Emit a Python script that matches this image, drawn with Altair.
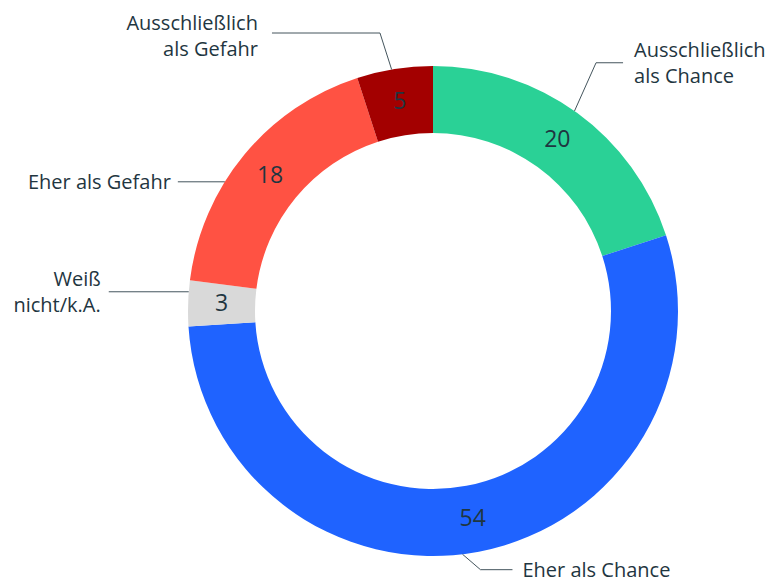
import math
import altair as alt
import pandas as pd

# ---- data ----
categories = ["Ausschließlich als Chance", "Eher als Chance", "Weiß nicht/k.A.",
              "Eher als Gefahr", "Ausschließlich als Gefahr"]
label_text = ["Ausschließlich\nals Chance", "Eher als Chance", "Weiß\nnicht/k.A.",
              "Eher als Gefahr", "Ausschließlich\nals Gefahr"]
values = [20, 54, 3, 18, 5]
colors = ["#2ad196", "#1f63ff", "#d9d9d9", "#ff5243", "#a30000"]

# ---- layout ----
W, H = 761, 574
CX, CY = 425, 303
R_OUT, R_IN = 245, 178
FONT = "Open Sans"
TXT = "#1f3641"
LH = 26
# leader: (fraction along slice, elbow angle, elbow radius, horizontal length, text gap, text dy)
leader = [
    (0.49, 33.3, 297, 27, 11, 0),
    (0.52, 169.6, 263, 32, 10, 0),
    (0.75, None, 0, 80, 8, 0),
    (0.38, None, 0, 47, 7, 0),
    (0.46, 349.2, 283, 108, 14, 3),
]

df = pd.DataFrame({"cat": categories, "value": values, "idx": list(range(len(values)))})

total = sum(values)
line_rows, lab_rows = [], []
start = 0.0
for i, (cat, v) in enumerate(zip(categories, values)):
    a0 = start / total * 360
    a1 = (start + v) / total * 360
    start += v
    frac, ea, er, hl, gap, dy = leader[i]
    a = math.radians(a0 + frac * (a1 - a0))
    sx, sy = CX + R_OUT * math.sin(a), CY - R_OUT * math.cos(a)
    pts = [(sx, sy)]
    if ea is not None:
        e = math.radians(ea)
        ex, ey = CX + er * math.sin(e), CY - er * math.cos(e)
        pts.append((ex, ey))
    else:
        ex, ey = sx, sy
    side = 1 if ex > CX else -1
    endx = ex + side * hl
    pts.append((endx, ey))
    for k, (px, py) in enumerate(pts):
        line_rows.append({"cat": cat, "k": k, "px": px, "py": py})
    nlines = label_text[i].count("\n") + 1
    lab_rows.append({"cat": cat, "label": label_text[i], "px": endx + side * gap,
                     "py": ey - (nlines - 1) * LH / 2 + 1 + dy,
                     "side": "left" if side > 0 else "right"})

lines_df = pd.DataFrame(line_rows)
labs_df = pd.DataFrame(lab_rows)

xs = alt.Scale(domain=[0, W], range=[0, W], nice=False, zero=False)
ys = alt.Scale(domain=[0, H], range=[0, H], nice=False, zero=False)

theta = alt.Theta("value:Q", stack=True)
order = alt.Order("idx:Q")

arcs = alt.Chart(df).mark_arc(outerRadius=R_OUT, innerRadius=R_IN).encode(
    theta=theta, order=order,
    color=alt.Color("cat:N", scale=alt.Scale(domain=categories, range=colors), legend=None),
    x=alt.value(CX), y=alt.value(CY),
)

vals = alt.Chart(df).mark_text(radius=(R_OUT + R_IN) / 2, fontSize=23, font=FONT,
                               color=TXT).encode(
    theta=theta, order=order, text="value:Q",
    x=alt.value(CX), y=alt.value(CY),
)

lines = alt.Chart(lines_df).mark_line(color="#44555d", strokeWidth=1).encode(
    x=alt.X("px:Q", scale=xs, axis=None),
    y=alt.Y("py:Q", scale=ys, axis=None),
    detail="cat:N", order="k:Q",
)

lab_l = alt.Chart(labs_df).transform_filter("datum.side == 'left'").mark_text(
    align="left", baseline="middle", fontSize=20, font=FONT, color=TXT,
    lineBreak="\n", lineHeight=LH).encode(
    x=alt.X("px:Q", scale=xs, axis=None), y=alt.Y("py:Q", scale=ys, axis=None), text="label:N")
lab_r = alt.Chart(labs_df).transform_filter("datum.side == 'right'").mark_text(
    align="right", baseline="middle", fontSize=20, font=FONT, color=TXT,
    lineBreak="\n", lineHeight=LH).encode(
    x=alt.X("px:Q", scale=xs, axis=None), y=alt.Y("py:Q", scale=ys, axis=None), text="label:N")

chart = alt.layer(arcs, vals, lines, lab_l, lab_r).resolve_scale(
    x="shared", y="shared"
).properties(
    width=W, height=H, padding=0, autosize=alt.AutoSizeParams(type="none"),
    background="white",
).configure_view(stroke=None)

chart.save("out.html", embed_options={"renderer": "svg", "actions": False})
